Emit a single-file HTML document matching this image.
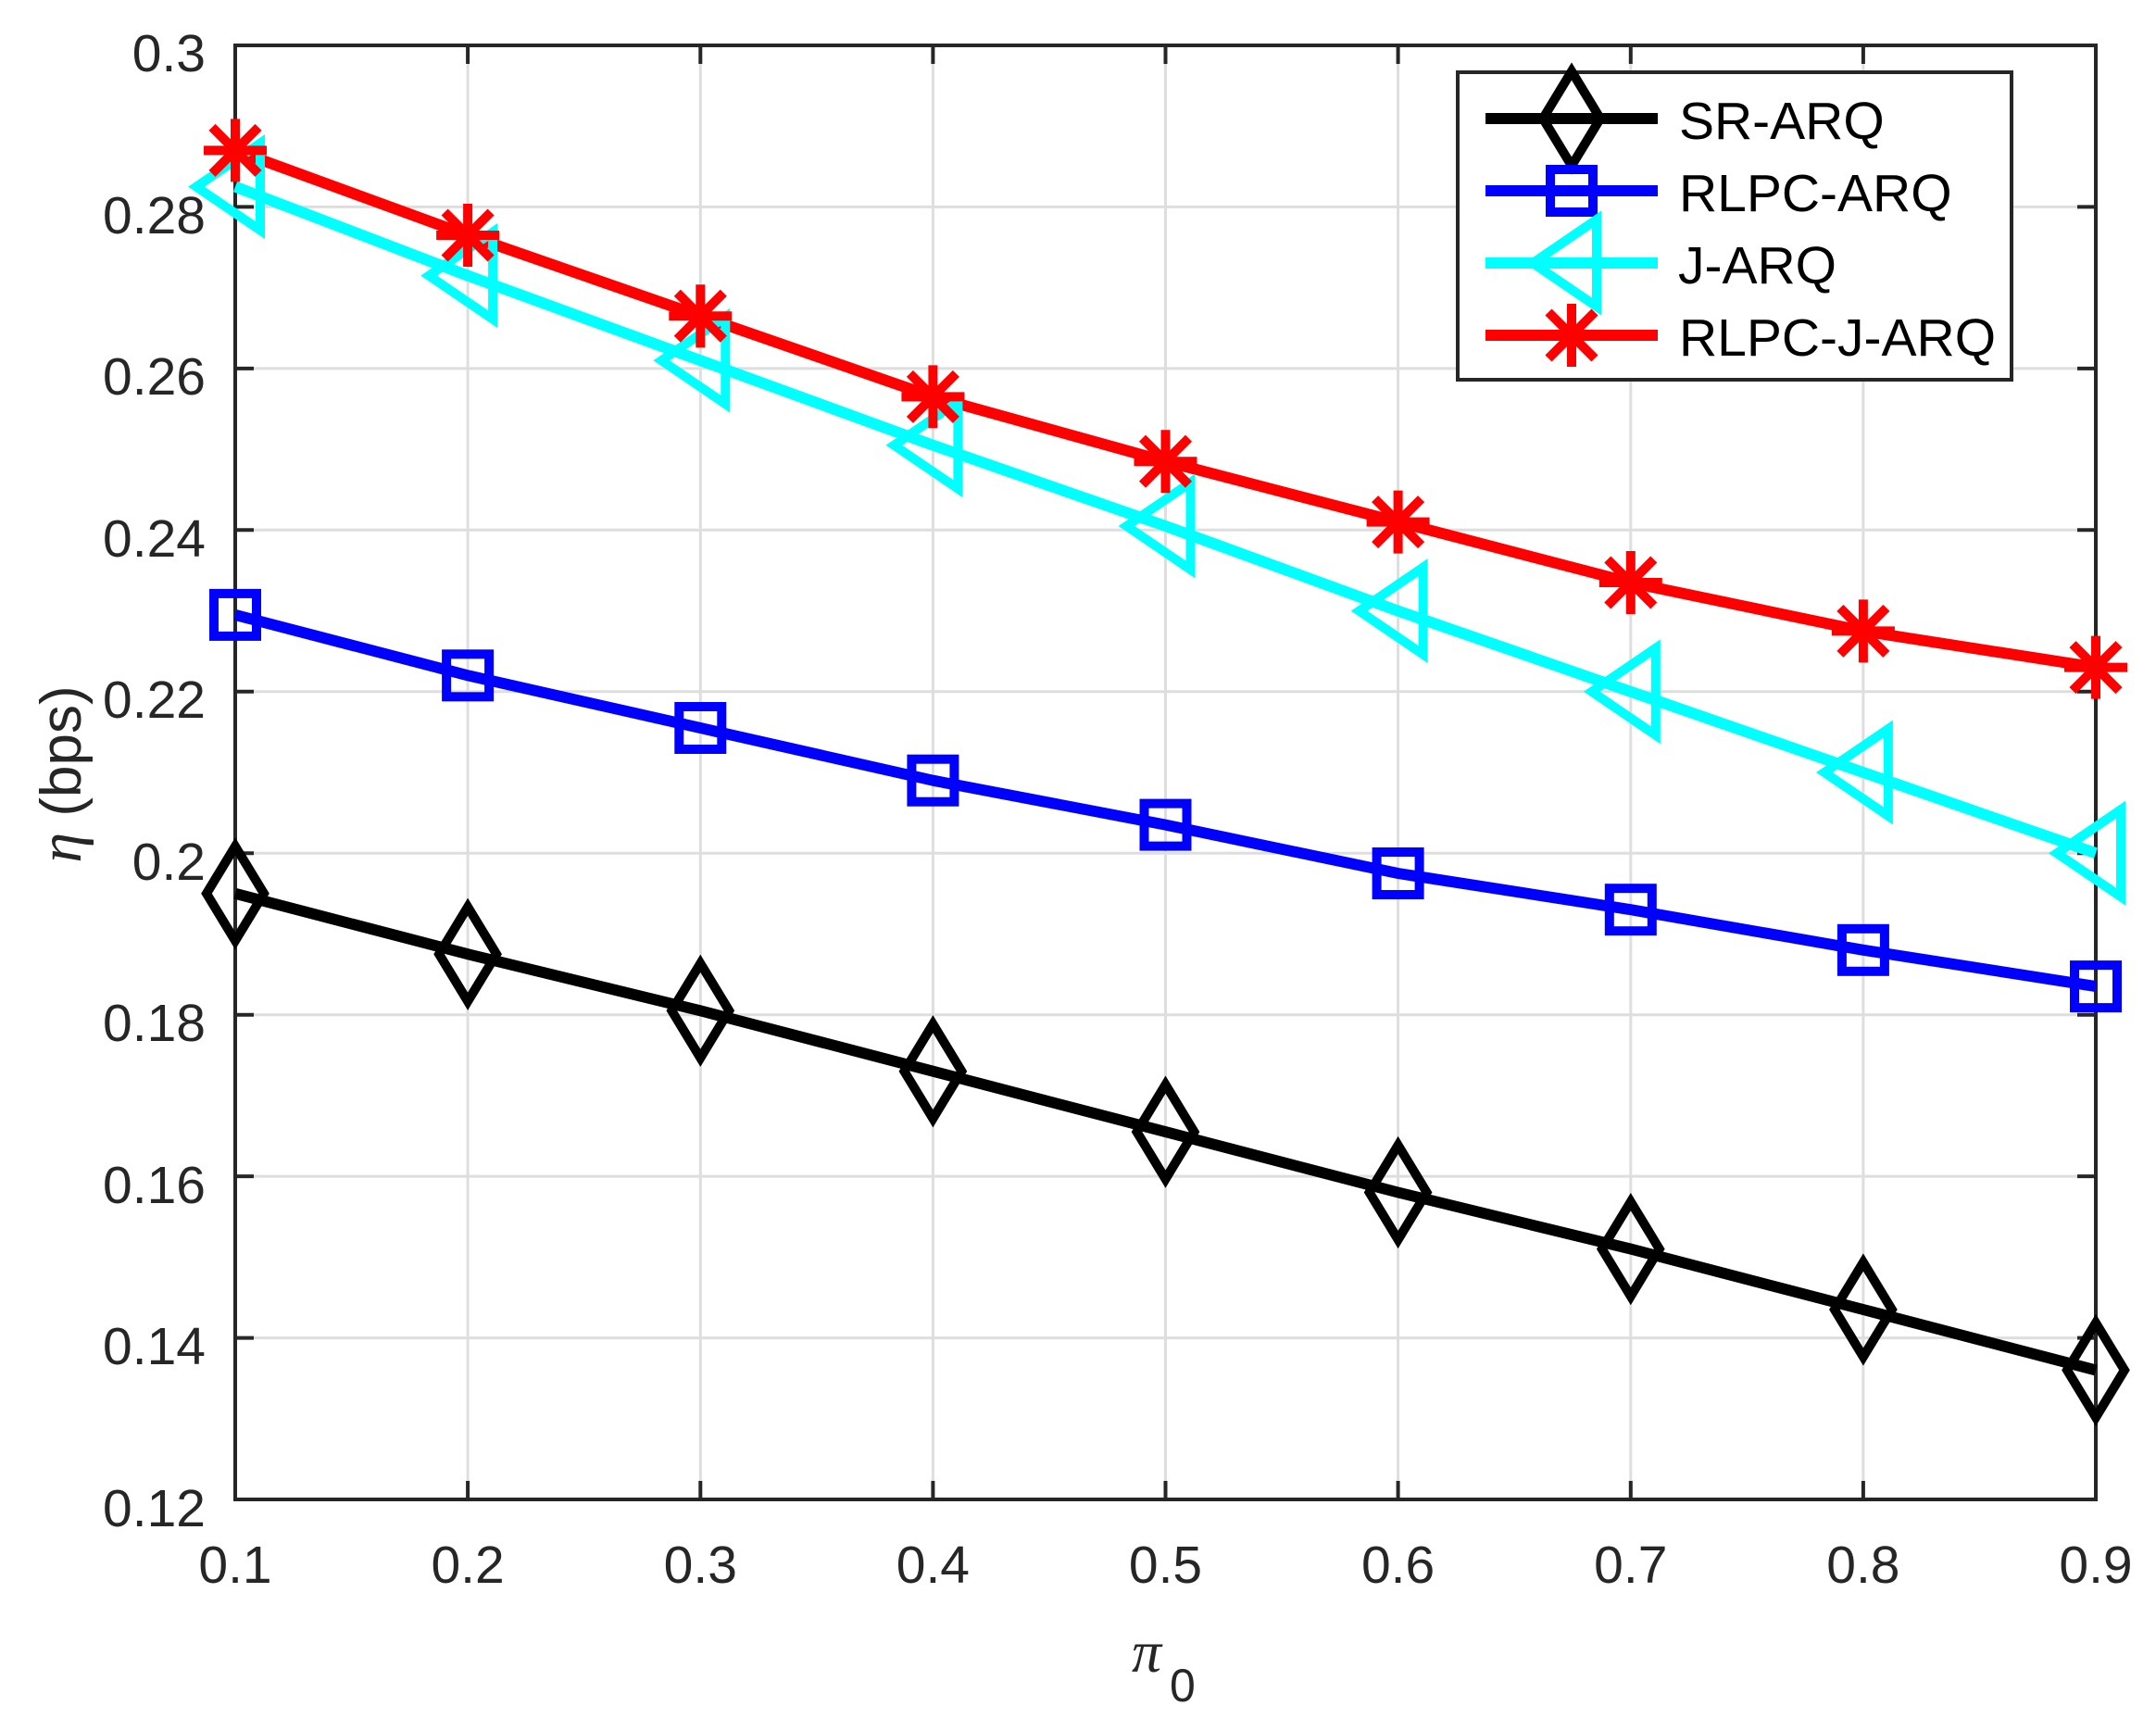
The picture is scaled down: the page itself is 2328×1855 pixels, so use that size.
<!DOCTYPE html>
<html><head><meta charset="utf-8"><style>body{margin:0;background:#fff}svg{display:block}</style></head>
<body>
<svg width="2328" height="1855" viewBox="0 0 2328 1855" xmlns="http://www.w3.org/2000/svg" font-family="Liberation Sans, sans-serif">
<defs>
<path id="dia" d="M0,-51 L31,0 L0,51 L-31,0Z" fill="none" stroke="#000" stroke-width="10"/>
<rect id="sq" x="-23" y="-23" width="46" height="46" fill="none" stroke="#0000ff" stroke-width="10"/>
<path id="tri" d="M-42,0 L27,-47 L27,47Z" fill="none" stroke="#00ffff" stroke-width="10"/>
<path id="star" d="M0,-34V34M-34,0H34M-25,-25L25,25M-25,25L25,-25" stroke="#ff0000" stroke-width="10"/>
</defs>
<g stroke="#dedede" stroke-width="3">
<line x1="505.1" y1="49" x2="505.1" y2="1619"/><line x1="756.3" y1="49" x2="756.3" y2="1619"/><line x1="1007.4" y1="49" x2="1007.4" y2="1619"/><line x1="1258.5" y1="49" x2="1258.5" y2="1619"/><line x1="1509.6" y1="49" x2="1509.6" y2="1619"/><line x1="1760.8" y1="49" x2="1760.8" y2="1619"/><line x1="2011.9" y1="49" x2="2011.9" y2="1619"/>
<line x1="254" y1="223.4" x2="2263" y2="223.4"/><line x1="254" y1="397.9" x2="2263" y2="397.9"/><line x1="254" y1="572.3" x2="2263" y2="572.3"/><line x1="254" y1="746.8" x2="2263" y2="746.8"/><line x1="254" y1="921.2" x2="2263" y2="921.2"/><line x1="254" y1="1095.7" x2="2263" y2="1095.7"/><line x1="254" y1="1270.1" x2="2263" y2="1270.1"/><line x1="254" y1="1444.6" x2="2263" y2="1444.6"/>
</g>
<g stroke="#262626" stroke-width="4">
<path d="M505.1,1619v-20M756.3,1619v-20M1007.4,1619v-20M1258.5,1619v-20M1509.6,1619v-20M1760.8,1619v-20M2011.9,1619v-20M505.1,49v20M756.3,49v20M1007.4,49v20M1258.5,49v20M1509.6,49v20M1760.8,49v20M2011.9,49v20"/>
<path d="M254,223.4h20M254,397.9h20M254,572.3h20M254,746.8h20M254,921.2h20M254,1095.7h20M254,1270.1h20M254,1444.6h20M2263,223.4h-20M2263,397.9h-20M2263,572.3h-20M2263,746.8h-20M2263,921.2h-20M2263,1095.7h-20M2263,1270.1h-20M2263,1444.6h-20"/>
<rect x="254" y="49" width="2009" height="1570" fill="none"/>
</g>
<g fill="#262626" font-size="57" text-anchor="end">
<text x="222" y="77">0.3</text><text x="222" y="252">0.28</text><text x="222" y="426">0.26</text><text x="222" y="601">0.24</text><text x="222" y="775">0.22</text><text x="222" y="950">0.2</text><text x="222" y="1124">0.18</text><text x="222" y="1299">0.16</text><text x="222" y="1473">0.14</text><text x="222" y="1648">0.12</text>
</g>
<g fill="#262626" font-size="57" text-anchor="middle">
<text x="254" y="1709">0.1</text><text x="505.1" y="1709">0.2</text><text x="756.3" y="1709">0.3</text><text x="1007.4" y="1709">0.4</text><text x="1258.5" y="1709">0.5</text><text x="1509.6" y="1709">0.6</text><text x="1760.8" y="1709">0.7</text><text x="2011.9" y="1709">0.8</text><text x="2263" y="1709">0.9</text>
</g>
<text x="1222" y="1805" font-family="Liberation Serif, serif" font-style="italic" font-size="64" fill="#262626">π</text>
<text x="1263" y="1837" font-size="50" fill="#262626">0</text>
<g transform="translate(87,836) rotate(-90)" fill="#262626" font-size="62" text-anchor="middle"><text><tspan font-family="Liberation Serif, serif" font-style="italic" font-size="66">η</tspan> (bps)</text></g>
<g fill="none" stroke-width="12" stroke-linejoin="round">
<polyline stroke="#000" points="254,964.8 505.1,1030.2 756.3,1091.3 1007.4,1156.7 1258.5,1222.1 1509.6,1287.5 1760.8,1348.6 2011.9,1414 2263,1479.4"/>
<polyline stroke="#0000ff" points="254,663.9 505.1,729.3 756.3,786 1007.4,842.7 1258.5,890.6 1509.6,943 1760.8,982.2 2011.9,1025.8 2263,1065.1"/>
<polyline stroke="#00ffff" points="254,201.6 505.1,297.6 756.3,389.2 1007.4,480.7 1258.5,568 1509.6,659.6 1760.8,746.8 2011.9,834 2263,921.2"/>
<polyline stroke="#ff0000" points="254,162.4 505.1,254 756.3,341.2 1007.4,428.4 1258.5,498.2 1509.6,563.6 1760.8,629 2011.9,681.4 2263,720.6"/>
</g>
<use href="#dia" x="254" y="964.8"/><use href="#dia" x="505.1" y="1030.2"/><use href="#dia" x="756.3" y="1091.3"/><use href="#dia" x="1007.4" y="1156.7"/><use href="#dia" x="1258.5" y="1222.1"/><use href="#dia" x="1509.6" y="1287.5"/><use href="#dia" x="1760.8" y="1348.6"/><use href="#dia" x="2011.9" y="1414"/><use href="#dia" x="2263" y="1479.4"/>
<use href="#sq" x="254" y="663.9"/><use href="#sq" x="505.1" y="729.3"/><use href="#sq" x="756.3" y="786"/><use href="#sq" x="1007.4" y="842.7"/><use href="#sq" x="1258.5" y="890.6"/><use href="#sq" x="1509.6" y="943"/><use href="#sq" x="1760.8" y="982.2"/><use href="#sq" x="2011.9" y="1025.8"/><use href="#sq" x="2263" y="1065.1"/>
<use href="#tri" x="254" y="201.6"/><use href="#tri" x="505.1" y="297.6"/><use href="#tri" x="756.3" y="389.2"/><use href="#tri" x="1007.4" y="480.7"/><use href="#tri" x="1258.5" y="568"/><use href="#tri" x="1509.6" y="659.6"/><use href="#tri" x="1760.8" y="746.8"/><use href="#tri" x="2011.9" y="834"/><use href="#tri" x="2263" y="921.2"/>
<use href="#star" x="254" y="162.4"/><use href="#star" x="505.1" y="254"/><use href="#star" x="756.3" y="341.2"/><use href="#star" x="1007.4" y="428.4"/><use href="#star" x="1258.5" y="498.2"/><use href="#star" x="1509.6" y="563.6"/><use href="#star" x="1760.8" y="629"/><use href="#star" x="2011.9" y="681.4"/><use href="#star" x="2263" y="720.6"/>
<rect x="1574" y="78" width="598" height="332" fill="#fff" stroke="#262626" stroke-width="4"/>
<g stroke-width="12">
<line x1="1604" y1="128" x2="1790" y2="128" stroke="#000"/>
<line x1="1604" y1="206" x2="1790" y2="206" stroke="#0000ff"/>
<line x1="1604" y1="284" x2="1790" y2="284" stroke="#00ffff"/>
<line x1="1604" y1="362" x2="1790" y2="362" stroke="#ff0000"/>
</g>
<use href="#dia" x="1697" y="128"/><use href="#sq" x="1697" y="206"/><use href="#tri" x="1697" y="284"/><use href="#star" x="1697" y="362"/>
<g fill="#000" font-size="57">
<text x="1813" y="150">SR-ARQ</text>
<text x="1813" y="228">RLPC-ARQ</text>
<text x="1812" y="306">J-ARQ</text>
<text x="1813" y="384">RLPC-J-ARQ</text>
</g>
</svg>
</body></html>
